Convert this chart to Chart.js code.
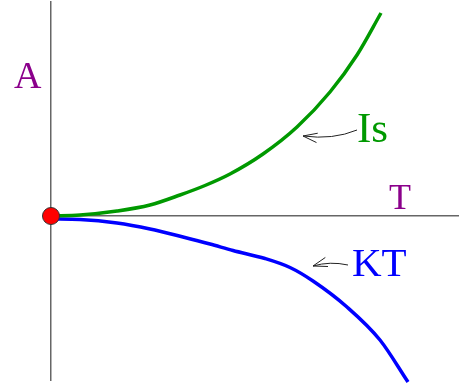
<!DOCTYPE html>
<html>
<head>
<meta charset="utf-8">
<script src="https://cdn.jsdelivr.net/npm/chart.js@4.4.0/dist/chart.umd.min.js"></script>
<style>
  html, body { margin: 0; padding: 0; background: #fff; }
  canvas { display: block; }
</style>
</head>
<body>
<canvas id="curveChart" width="459" height="390"></canvas>
<script>
// Is rises with T, KT falls with T; both start at the origin
const isT = [0, 0.29, 0.66, 0.99, 1.29, 1.54, 1.79, 2.12, 2.46, 2.79, 3.06, 3.30];
const isA = [0, 0.01, 0.05, 0.11, 0.21, 0.305, 0.42, 0.62, 0.89, 1.24, 1.61, 2.03];

const ktT = [0, 0.29, 0.66, 0.99, 1.32, 1.59, 1.82, 2.14, 2.39, 2.62, 2.96, 3.29, 3.57];
const ktA = [-0.03, -0.035, -0.07, -0.13, -0.21, -0.28, -0.345, -0.425, -0.515, -0.65, -0.91, -1.24, -1.66];

const originT = [0];
const originA = [0];

function toPoints(xs, ys) {
    return xs.map(function (x, i) { return { x: x, y: ys[i] }; });
}

// text labels and the little pointer arrows, in data units
const labels = [
    { text: "A",  x: -0.37, y: 1.28, size: 38, color: "#8b008b" },
    { text: "T",  x: 3.38,  y: 0.07, size: 36, color: "#8b008b" },
    { text: "Is", x: 3.06,  y: 0.74, size: 43, color: "#009900" },
    { text: "KT", x: 3.01,  y: -0.60, size: 41, color: "#0000ff" }
];

const arrows = [
    { from: [3.06, 0.86], ctrl: [2.82, 0.76], to: [2.52, 0.80] },
    { from: [2.97, -0.49], ctrl: [2.79, -0.45], to: [2.62, -0.50] }
];

const annotate = {
    id: "annotate",
    afterDatasetsDraw(chart) {
        const ctx = chart.ctx;
        const sx = chart.scales.x, sy = chart.scales.y;
        const px = function (v) { return sx.getPixelForValue(v); };
        const py = function (v) { return sy.getPixelForValue(v); };
        ctx.save();

        labels.forEach(function (l) {
            ctx.font = l.size + "px 'Liberation Serif', 'DejaVu Serif', serif";
            ctx.fillStyle = l.color;
            ctx.textAlign = "left";
            ctx.textBaseline = "alphabetic";
            ctx.fillText(l.text, px(l.x), py(l.y));
        });

        ctx.strokeStyle = "#222";
        ctx.lineWidth = 1;
        arrows.forEach(function (a) {
            const x0 = px(a.from[0]), y0 = py(a.from[1]);
            const cx = px(a.ctrl[0]), cy = py(a.ctrl[1]);
            const x1 = px(a.to[0]), y1 = py(a.to[1]);
            ctx.beginPath();
            ctx.moveTo(x0, y0);
            ctx.quadraticCurveTo(cx, cy, x1, y1);
            ctx.stroke();
            // open arrow head
            const ang = Math.atan2(y1 - cy, x1 - cx);
            const len = 15, spread = 0.32;
            ctx.beginPath();
            ctx.moveTo(x1 - len * Math.cos(ang - spread), y1 - len * Math.sin(ang - spread));
            ctx.lineTo(x1, y1);
            ctx.lineTo(x1 - len * Math.cos(ang + spread), y1 - len * Math.sin(ang + spread));
            ctx.stroke();
        });

        ctx.restore();
    }
};

new Chart(document.getElementById("curveChart"), {
    type: "line",
    data: {
        datasets: [
            {
                label: "origin",
                data: toPoints(originT, originA),
                showLine: false,
                pointRadius: 8.5,
                pointBackgroundColor: "#ff0000",
                pointBorderColor: "#333",
                pointBorderWidth: 1,
                clip: false
            },
            {
                label: "Is",
                data: toPoints(isT, isA),
                borderColor: "#009900",
                borderWidth: 3.5,
                pointRadius: 0,
                cubicInterpolationMode: "monotone",
                clip: false
            },
            {
                label: "KT",
                data: toPoints(ktT, ktA),
                borderColor: "#0000ff",
                borderWidth: 3.5,
                pointRadius: 0,
                cubicInterpolationMode: "monotone",
                clip: false
            }
        ]
    },
    options: {
        responsive: false,
        animation: false,
        layout: { autoPadding: false, padding: { left: 51, right: 0, top: 2, bottom: 10 } },
        plugins: { legend: { display: false }, tooltip: { enabled: false } },
        scales: {
            x: {
                type: "linear",
                min: 0,
                max: 4.08,
                position: { y: 0 },
                z: 1,
                grid: { display: false },
                border: { display: true, color: "#666", width: 1.5 },
                ticks: { display: false }
            },
            y: {
                type: "linear",
                min: -1.64,
                max: 2.14,
                position: { x: 0 },
                z: 1,
                grid: { display: false },
                border: { display: true, color: "#666", width: 1.5 },
                ticks: { display: false }
            }
        }
    },
    plugins: [annotate]
});
</script>
</body>
</html>
